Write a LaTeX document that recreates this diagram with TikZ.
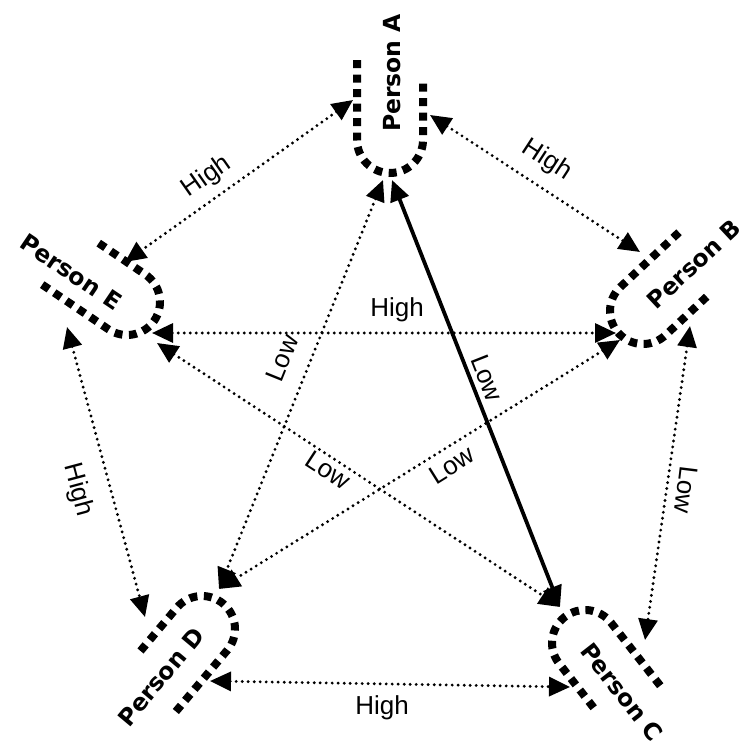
\documentclass[tikz,border=0pt]{standalone}
\usepackage{fontspec}
\setsansfont{Liberation Sans}
\newfontfamily\personfont{DejaVu Sans}
\usetikzlibrary{arrows.meta}

\begin{document}
\begin{tikzpicture}[x=1pt, y=1pt,
		link/.style={line width=3.2pt, dash pattern=on 0pt off 6pt, line cap=round, {Triangle[length=21pt, width=19pt]}-{Triangle[length=21pt, width=19pt]}},
		stronglink/.style={line width=3.8pt, {Triangle[length=21pt, width=19pt]}-{Triangle[length=21pt, width=19pt]}},
		ucup/.style={line width=8pt, dash pattern=on 8pt off 6.5pt},
		who/.style={font=\personfont\bfseries\fontsize{23.5}{23.5}\selectfont},
		rate/.style={font=\sffamily\fontsize{26}{26}\selectfont}]
			\useasboundingbox (0,0) rectangle (742,-744);

			% the five cups, opening away from the middle
			\draw[ucup, shift={(390,-140)}, rotate=90] (80,33) -- (0,33) arc[start angle=90, end angle=270, radius=33] -- (60,-33);
			\draw[ucup, shift={(643,-311)}, rotate=43] (80,33) -- (0,33) arc[start angle=90, end angle=270, radius=33] -- (60,-33);
			\draw[ucup, shift={(585,-643)}, rotate=-52] (80,33) -- (0,33) arc[start angle=90, end angle=270, radius=33] -- (60,-33);
			\draw[ucup, shift={(202,-629)}, rotate=230] (80,33) -- (0,33) arc[start angle=90, end angle=270, radius=33] -- (60,-33);
			\draw[ucup, shift={(127,-302)}, rotate=146] (80,33) -- (0,33) arc[start angle=90, end angle=270, radius=33] -- (60,-33);

			\node[who, rotate=90] (pA) at (392,-73) {Person A};
			\node[who, rotate=43] (pB) at (694,-264) {Person B};
			\node[who, rotate=-52] (pC) at (622,-692) {Person C};
			\node[who, rotate=50] (pD) at (161,-677) {Person D};
			\node[who, rotate=-34] (pE) at (71,-272) {Person E};

			% arrow ends on the cups
			\coordinate (A-w) at (353,-100);
			\coordinate (A-e) at (430,-115);
			\coordinate (A-sw) at (383,-180);
			\coordinate (A-se) at (392,-180);
			\coordinate (B-nw) at (640,-252);
			\coordinate (B-w) at (616,-333);
			\coordinate (B-sw) at (620,-340);
			\coordinate (B-s) at (690,-326);
			\coordinate (C-nw) at (560,-607);
			\coordinate (C-w) at (570,-687);
			\coordinate (C-n) at (645,-640);
			\coordinate (D-ne) at (219,-589);
			\coordinate (D-nw) at (145,-617);
			\coordinate (D-e) at (210,-681);
			\coordinate (E-ne) at (125,-262);
			\coordinate (E-e) at (152,-333);
			\coordinate (E-se) at (157,-343);
			\coordinate (E-s) at (67,-327);

			\draw[link] (A-w) -- (E-ne);
			\draw[link] (A-e) -- (B-nw);
			\draw[link] (A-sw) -- (D-ne);
			\draw[stronglink] (A-se) -- (C-nw);
			\draw[link] (E-e) -- (B-w);
			\draw[link] (E-se) -- (C-nw);
			\draw[link] (B-sw) -- (D-ne);
			\draw[link] (E-s) -- (D-nw);
			\draw[link] (D-e) -- (C-w);
			\draw[link] (B-s) -- (C-n);

			\node[rate, rotate=35] (rAE) at (207,-177) {High};
			\node[rate, rotate=-33] (rAB) at (547,-160) {High};
			\node[rate, rotate=68] (rAD) at (282,-358) {Low};
			\node[rate, rotate=-68.5] (rAC) at (487,-378) {Low};
			\node[rate] (rEB) at (397,-310) {High};
			\node[rate, rotate=-33] (rEC) at (328,-470) {Low};
			\node[rate, rotate=32] (rBD) at (452,-465) {Low};
			\node[rate, rotate=-75] (rED) at (78,-490) {High};
			\node[rate] (rDC) at (382,-708) {High};
			\node[rate, rotate=-97] (rBC) at (686,-490) {Low};

		\end{tikzpicture}
\end{document}
